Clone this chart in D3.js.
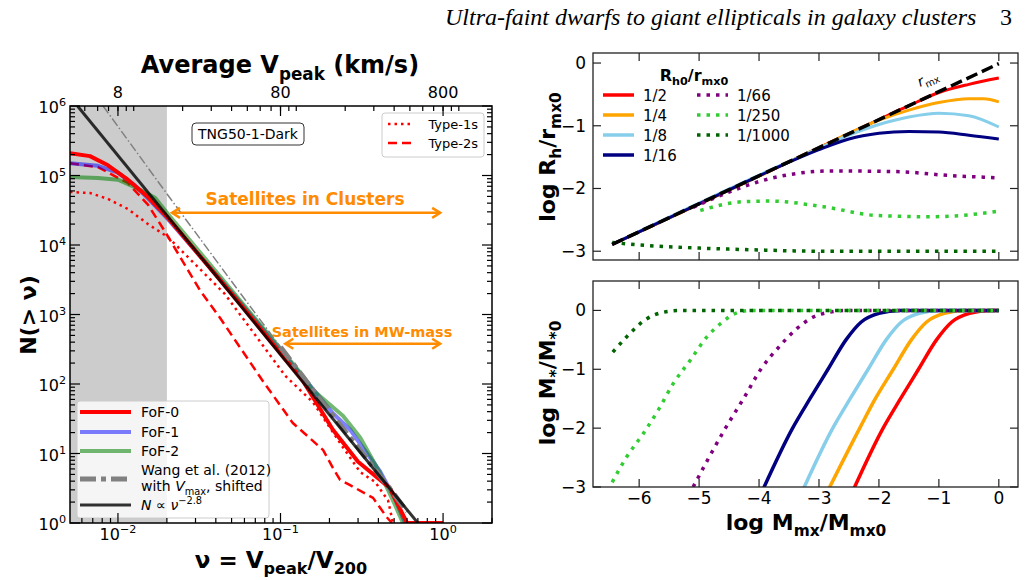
<!DOCTYPE html>
<html>
<head>
<meta charset="utf-8">
<script src="https://cdn.jsdelivr.net/npm/d3@7"></script>
<style>
  body { margin: 0; background: #fff; }
  svg { display: block; font-family: "DejaVu Sans", sans-serif; }
</style>
</head>
<body>
<div id="chart"></div>
<script>
// ---------- left panel: N(>nu) ----------
const nuFoF0 = [0.00507, 0.00673, 0.00868, 0.0115, 0.0153, 0.0203, 0.054, 0.136, 0.21, 0.30, 0.47, 0.60, 1.0];
const nFoF0 = [2.1e5, 1.9e5, 1.4e5, 8.7e4, 4.9e4, 2.45e4, 1.6e3, 115, 22, 7.6, 3.2, 1, 1];
const nuFoF1 = [0.00507, 0.00753, 0.01, 0.0127, 0.0153, 0.0203, 0.054, 0.136, 0.21, 0.268, 0.322, 0.41, 0.507, 0.584];
const nFoF1 = [1.5e5, 1.38e5, 1.1e5, 7.2e4, 4.7e4, 2.35e4, 1.7e3, 130, 38, 22, 12, 5.5, 2.2, 1];
const nuFoF2 = [0.00507, 0.00753, 0.01, 0.0127, 0.0169, 0.0203, 0.054, 0.136, 0.158, 0.242, 0.309, 0.41, 0.507, 0.567];
const nFoF2 = [9.5e4, 9.2e4, 8.7e4, 6.8e4, 4.8e4, 2.8e4, 1.8e3, 135, 82, 35, 17, 5.2, 1.8, 1];
const nuType1 = [0.00507, 0.00673, 0.00868, 0.0115, 0.0153, 0.0203, 0.0455, 0.107, 0.158, 0.242, 0.309, 0.382, 0.459, 0.492];
const nType1 = [5.8e4, 5.6e4, 4.6e4, 3.3e4, 2.0e4, 1.3e4, 1.97e3, 131, 55, 12.3, 5.4, 3.9, 2.1, 1];
const nuType2 = [0.00507, 0.00753, 0.0115, 0.0153, 0.0195, 0.0321, 0.0425, 0.0769, 0.119, 0.183, 0.21, 0.232, 0.268, 0.371, 0.452, 0.485];
const nType2 = [1.5e5, 1.32e5, 7.8e4, 3.8e4, 1.55e4, 2.2e3, 890, 115, 27.5, 11.2, 6.2, 4.2, 3.5, 2.3, 1.2, 1];
// Wang et al. (2012): thin = extrapolated part, thick = fitted range
const nuWangExt = [0.0081, 0.0203, 0.0548, 0.1];
const nWangExt = [1e6, 5.2e4, 2.24e3, 340];
const nuWang = [0.1, 0.175, 0.308, 0.493, 0.6];
const nWang = [340, 60, 11.2, 2.7, 1.45];
// N ∝ nu^-2.8 guide line (end points)
const nuPow = [0.00564, 0.70];
const nPow = [1e6, 1];
const nuShade = 0.02;            // resolution limit
const nuTicks = [0.01, 0.1, 1];
const nuTickExp = ["−2", "−1", "0"];
const vpeakTicks = [8, 80, 800];
const nTickExp = [0, 1, 2, 3, 4, 5, 6];

// ---------- right top: log Rh/rmx0 vs log Mmx/Mmx0 ----------
const rhLabels = ["1/2", "1/4", "1/8", "1/16", "1/66", "1/250", "1/1000"];
const xRmx = [-6.45, 0], yRmx = [-2.89, -0.01];
const xR2 = [-6.45, -4, -2, -1.5, -1, -0.5, 0];
const yR2 = [-2.89, -1.80, -0.90, -0.68, -0.47, -0.34, -0.24];
const xR4 = [-6.45, -3, -2.5, -2, -1.5, -1, -0.5, -0.25, 0];
const yR4 = [-2.89, -1.35, -1.12, -0.91, -0.75, -0.63, -0.57, -0.57, -0.62];
const xR8 = [-6.45, -3.5, -3, -2.5, -2, -1.5, -1, -0.5, 0];
const yR8 = [-2.89, -1.57, -1.36, -1.15, -0.98, -0.86, -0.80, -0.84, -1.02];
const xR16 = [-6.45, -4, -3.5, -3, -2.5, -2, -1.5, -1, -0.5, 0];
const yR16 = [-2.89, -1.80, -1.58, -1.38, -1.21, -1.12, -1.09, -1.10, -1.15, -1.21];
const xR66 = [-5.1, -4.48, -3.93, -3.37, -2.82, -1.71, -0.87, 0];
const yR66 = [-2.30, -2.05, -1.87, -1.76, -1.72, -1.73, -1.79, -1.83];
const xR250 = [-4.98, -4.26, -3.82, -2.93, -2.04, -1.15, -0.5, 0];
const yR250 = [-2.35, -2.21, -2.20, -2.29, -2.43, -2.45, -2.42, -2.36];
const xR1000 = [-6.45, -6, -5, -4, -3, -2, -1, 0];
const yR1000 = [-2.86, -2.90, -2.95, -2.98, -3.0, -3.0, -3.0, -3.0];

// ---------- right bottom: log M*/M*0 vs log Mmx/Mmx0 ----------
const xS2 = [-2.45, -1.93, -1.64, -1.34, -1.04, -0.79, -0.49, -0.14, 0];
const yS2 = [-3.1, -2, -1.5, -1, -0.5, -0.2, -0.05, 0, 0];
const xS4 = [-2.87, -2.32, -2.06, -1.76, -1.46, -1.21, -0.91, -0.56, 0];
const yS4 = [-3.1, -2, -1.5, -1, -0.5, -0.2, -0.05, 0, 0];
const xS8 = [-3.29, -2.77, -2.48, -2.18, -1.88, -1.63, -1.33, -0.98, 0];
const yS8 = [-3.1, -2, -1.5, -1, -0.5, -0.2, -0.05, 0, 0];
const xS16 = [-3.96, -3.44, -3.15, -2.85, -2.55, -2.3, -2.0, -1.65, 0];
const yS16 = [-3.1, -2, -1.5, -1, -0.5, -0.2, -0.05, 0, 0];
const xS66 = [-5.1, -4.56, -4.26, -3.97, -3.65, -3.37, -3.09, -2.82, -2.5, 0];
const yS66 = [-3.0, -2.0, -1.5, -1.0, -0.6, -0.31, -0.11, -0.03, 0, 0];
const xS250 = [-6.45, -6.21, -5.93, -5.68, -5.43, -5.15, -4.87, -4.65, -4.37, -4.15, 0];
const yS250 = [-2.92, -2.49, -2.09, -1.69, -1.24, -0.85, -0.45, -0.23, -0.04, 0, 0];
const xS1000 = [-6.44, -6.21, -5.87, -5.59, -5.3, 0];
const yS1000 = [-0.71, -0.45, -0.14, -0.03, 0, 0];
const massTicks = [-6, -5, -4, -3, -2, -1, 0];
const rhTicks = [0, -1, -2, -3];
const msTicks = [0, -1, -2, -3];

// ---------- canvas ----------
const width = 1025, height = 580;
const svg = d3.select("#chart").append("svg")
  .attr("width", width).attr("height", height);
svg.append("rect").attr("width", width).attr("height", height).attr("fill", "#fff");

// text with sub/superscripts: parts = [text, "sub"|"sup"|null, italic]
function rich(parent, x, y, parts, size) {
  const t = parent.append("text").attr("x", x).attr("y", y).attr("font-size", size);
  let cur = 0;
  parts.forEach(([s, kind, it]) => {
    const off = kind === "sub" ? 0.28 * size : kind === "sup" ? -0.42 * size : 0;
    const sp = t.append("tspan").attr("dy", off - cur).text(s);
    if (kind) sp.attr("font-size", size * 0.7);
    if (it) sp.attr("font-style", "italic");
    cur = off;
  });
  return t;
}

function clip(id, x0, y0, x1, y1) {
  svg.append("clipPath").attr("id", id).append("rect")
    .attr("x", x0).attr("y", y0).attr("width", x1 - x0).attr("height", y1 - y0);
}

// header
svg.append("text").attr("x", 445).attr("y", 25)
  .attr("font-family", "Liberation Serif").attr("font-style", "italic").attr("font-size", 24)
  .text("Ultra-faint dwarfs to giant ellipticals in galaxy clusters");
svg.append("text").attr("x", 1000).attr("y", 25)
  .attr("font-family", "Liberation Serif").attr("font-size", 24).text("3");

// ================= LEFT PANEL =================
const L = { x0: 70, x1: 492, y0: 106, y1: 523 };
const x = d3.scaleLog().domain([0.00507, 2.0]).range([L.x0, L.x1]);
const y = d3.scaleLog().domain([1, 1e6]).range([L.y1, L.y0]);
const xV = d3.scaleLog().domain([800 * 0.00507, 1600]).range([L.x0, L.x1]);
clip("clipL", L.x0, L.y0, L.x1, L.y1);

const gL = svg.append("g").attr("clip-path", "url(#clipL)");
gL.append("rect").attr("x", L.x0).attr("y", L.y0)
  .attr("width", x(nuShade) - L.x0).attr("height", L.y1 - L.y0).attr("fill", "#cccccc");

const lineL = d3.line().x(d => x(d[0])).y(d => y(d[1]));
function curveL(nu, n, stroke, w, dash, op) {
  gL.append("path").datum(d3.zip(nu, n))
    .attr("d", lineL).attr("fill", "none")
    .attr("stroke", stroke).attr("stroke-width", w)
    .attr("stroke-dasharray", dash || null)
    .attr("stroke-opacity", op || 1)
    .attr("stroke-linejoin", "round");
}
curveL(nuType2, nType2, "#ff0000", 2.5, "9,5");
curveL(nuType1, nType1, "#ff0000", 2.5, "2.5,4");
curveL(nuFoF1, nFoF1, "#0000ff", 4, null, 0.5);
curveL(nuFoF2, nFoF2, "#008000", 4, null, 0.55);
curveL(nuFoF0, nFoF0, "#ff0000", 4);
curveL(nuWangExt, nWangExt, "#808080", 1.5, "9,2.5,1.5,2.5");
curveL(nuWang, nWang, "#808080", 5, "16,5,5,5");
curveL(nuPow, nPow, "#000000", 3, null, 0.8);

// arrows
function arrow(nuA, nuB, nY) {
  const xa = x(nuA), xb = x(nuB), yy = y(nY), c = "#ff8c00";
  const g = svg.append("g").attr("stroke", c).attr("stroke-width", 2.5).attr("fill", "none");
  g.append("line").attr("x1", xa).attr("x2", xb).attr("y1", yy).attr("y2", yy);
  g.append("path").attr("d", `M${xa + 8},${yy - 5}L${xa},${yy}L${xa + 8},${yy + 5}`);
  g.append("path").attr("d", `M${xb - 8},${yy - 5}L${xb},${yy}L${xb - 8},${yy + 5}`);
}
arrow(0.0215, 0.96, 2.9e4);
arrow(0.107, 0.96, 380);
svg.append("text").attr("x", 305).attr("y", 205).attr("text-anchor", "middle")
  .attr("font-size", 17).attr("font-weight", "bold").attr("fill", "#ff8c00")
  .text("Satellites in Clusters");
svg.append("text").attr("x", 362).attr("y", 337).attr("text-anchor", "middle")
  .attr("font-size", 14.5).attr("font-weight", "bold").attr("fill", "#ff8c00")
  .text("Satellites in MW-mass");

// TNG label box
svg.append("rect").attr("x", 192).attr("y", 123).attr("width", 112).attr("height", 22)
  .attr("rx", 4).attr("fill", "#fff").attr("stroke", "#333").attr("stroke-width", 1);
svg.append("text").attr("x", 248).attr("y", 139).attr("text-anchor", "middle")
  .attr("font-size", 14).text("TNG50-1-Dark");

// legend: Type-1s / Type-2s
svg.append("rect").attr("x", 382).attr("y", 113).attr("width", 102).attr("height", 44)
  .attr("rx", 3).attr("fill", "#fff").attr("fill-opacity", 0.8).attr("stroke", "#ccc");
[["Type-1s", "2.5,4"], ["Type-2s", "9,5"]].forEach(([lab, dash], i) => {
  const yy = 124 + i * 19;
  svg.append("line").attr("x1", 388).attr("x2", 414).attr("y1", yy).attr("y2", yy)
    .attr("stroke", "#ff0000").attr("stroke-width", 2.5).attr("stroke-dasharray", dash);
  svg.append("text").attr("x", 478).attr("y", yy + 5).attr("text-anchor", "end")
    .attr("font-size", 13).text(lab);
});

// legend: FoF groups etc.
svg.append("rect").attr("x", 77).attr("y", 401).attr("width", 192).attr("height", 117)
  .attr("rx", 3).attr("fill", "#fff").attr("fill-opacity", 0.8).attr("stroke", "#ccc");
const legL = [
  { y: 412, c: "#ff0000", w: 4, op: 1, parts: [["FoF-0"]] },
  { y: 432, c: "#0000ff", w: 4, op: 0.5, parts: [["FoF-1"]] },
  { y: 451, c: "#008000", w: 4, op: 0.55, parts: [["FoF-2"]] },
  { y: 479, c: "#808080", w: 5, op: 1, dash: "16,5,5,5", parts: [["Wang et al. (2012)"]] },
  { y: 505, c: "#000000", w: 3, op: 0.8, parts: [["N", null, true], [" ∝ "], ["ν", null, true], ["−2.8", "sup"]] }
];
legL.forEach(d => {
  svg.append("line").attr("x1", 80).attr("x2", 131).attr("y1", d.y).attr("y2", d.y)
    .attr("stroke", d.c).attr("stroke-width", d.w).attr("stroke-opacity", d.op)
    .attr("stroke-dasharray", d.dash || null);
  rich(svg, 141, d.y + (d.dash ? -4 : 5), d.parts, 14);
});
rich(svg, 141, 491, [["with "], ["V", null, true], ["max", "sub"], [", shifted"]], 14);

// axes frame + ticks
svg.append("rect").attr("x", L.x0).attr("y", L.y0).attr("width", L.x1 - L.x0)
  .attr("height", L.y1 - L.y0).attr("fill", "none").attr("stroke", "#000").attr("stroke-width", 1.5);
const isMajor = v => Math.abs(Math.log10(v) - Math.round(Math.log10(v))) < 1e-6;
const gT = svg.append("g").attr("stroke", "#000").attr("stroke-width", 1.2);
y.ticks().forEach(v => {
  const len = isMajor(v) ? 10 : 5, yy = y(v);
  gT.append("line").attr("x1", L.x0).attr("x2", L.x0 + len).attr("y1", yy).attr("y2", yy);
  gT.append("line").attr("x1", L.x1).attr("x2", L.x1 - len).attr("y1", yy).attr("y2", yy);
});
x.ticks().forEach(v => {
  const len = isMajor(v) ? 10 : 5;
  gT.append("line").attr("x1", x(v)).attr("x2", x(v)).attr("y1", L.y1).attr("y2", L.y1 - len);
});
xV.ticks().forEach(v => {
  gT.append("line").attr("x1", xV(v)).attr("x2", xV(v)).attr("y1", L.y0).attr("y2", L.y0 + 5);
});
vpeakTicks.forEach(v => {
  gT.append("line").attr("x1", xV(v)).attr("x2", xV(v)).attr("y1", L.y0).attr("y2", L.y0 + 10);
  svg.append("text").attr("x", xV(v)).attr("y", 98).attr("text-anchor", "middle")
    .attr("font-size", 16).text(v);
});
nTickExp.forEach(k => {
  rich(svg, 66, y(Math.pow(10, k)) + 7, [["10"], [String(k), "sup"]], 16).attr("text-anchor", "end");
});
nuTicks.forEach((v, i) => {
  rich(svg, x(v), 540, [["10"], [nuTickExp[i], "sup"]], 16).attr("text-anchor", "middle");
});

// axis titles
rich(svg, 280, 73, [["Average V"], ["peak", "sub"], [" (km/s)"]], 24)
  .attr("text-anchor", "middle").attr("font-weight", "bold");
rich(svg, 281, 568, [["ν = V"], ["peak", "sub"], ["/V"], ["200", "sub"]], 23)
  .attr("text-anchor", "middle").attr("font-weight", "bold");
svg.append("text").attr("transform", "translate(36,315) rotate(-90)")
  .attr("text-anchor", "middle").attr("font-size", 22).attr("font-weight", "bold")
  .text("N(> ν)");

// ================= RIGHT PANELS =================
const R = { x0: 593, x1: 1018 };
const xm = d3.scaleLinear().domain([-6.77, 0.32]).range([R.x0, R.x1]);
const T = { y0: 53, y1: 260 }, B = { y0: 281, y1: 487 };
const yr = d3.scaleLinear().domain([-3.14, 0.16]).range([T.y1, T.y0]);
const ys = d3.scaleLinear().domain([-3, 0.5]).range([B.y1, B.y0]);
clip("clipT", R.x0, T.y0, R.x1, T.y1);
clip("clipB", R.x0, B.y0, R.x1, B.y1);

const colors = ["#ff0000", "#ffa500", "#87ceeb", "#000080", "#800080", "#32cd32", "#006400"];
const dotted = [false, false, false, false, true, true, true];
const topX = [xR2, xR4, xR8, xR16, xR66, xR250, xR1000];
const topY = [yR2, yR4, yR8, yR16, yR66, yR250, yR1000];
const botX = [xS2, xS4, xS8, xS16, xS66, xS250, xS1000];
const botY = [yS2, yS4, yS8, yS16, yS66, yS250, yS1000];

const gTop = svg.append("g").attr("clip-path", "url(#clipT)");
const gBot = svg.append("g").attr("clip-path", "url(#clipB)");
const lineT = d3.line().x(d => xm(d[0])).y(d => yr(d[1])).curve(d3.curveMonotoneX);
const lineB = d3.line().x(d => xm(d[0])).y(d => ys(d[1])).curve(d3.curveMonotoneX);
colors.forEach((c, i) => {
  gTop.append("path").datum(d3.zip(topX[i], topY[i])).attr("d", lineT)
    .attr("fill", "none").attr("stroke", c).attr("stroke-width", dotted[i] ? 3.5 : 3)
    .attr("stroke-dasharray", dotted[i] ? "3.5,6" : null);
  gBot.append("path").datum(d3.zip(botX[i], botY[i])).attr("d", lineB)
    .attr("fill", "none").attr("stroke", c).attr("stroke-width", 3.5)
    .attr("stroke-dasharray", dotted[i] ? "3.5,6" : null);
});
// r_mx reference
gTop.append("path").datum(d3.zip(xRmx, yRmx)).attr("d", lineT)
  .attr("fill", "none").attr("stroke", "#000").attr("stroke-width", 3.5)
  .attr("stroke-dasharray", "12,5");
const ang = Math.atan2(yr(yRmx[1]) - yr(yRmx[0]), xm(xRmx[1]) - xm(xRmx[0])) * 180 / Math.PI;
rich(svg, 0, 0, [["r", null, true], ["mx", "sub"]], 14)
  .attr("transform", `translate(920,87) rotate(${ang})`);

// legend (top right)
rich(svg, 694, 81, [["R"], ["h0", "sub"], ["/r"], ["mx0", "sub"]], 16)
  .attr("text-anchor", "middle").attr("font-weight", "bold");
rhLabels.forEach((lab, i) => {
  const col = i < 4 ? 0 : 1, row = i < 4 ? i : i - 4;
  const lx = col ? 697 : 603, yy = 95 + row * 20;
  svg.append("line").attr("x1", lx).attr("x2", lx + 31).attr("y1", yy).attr("y2", yy)
    .attr("stroke", colors[i]).attr("stroke-width", 3.5)
    .attr("stroke-dasharray", dotted[i] ? "3.5,6" : null);
  svg.append("text").attr("x", lx + 40).attr("y", yy + 6).attr("font-size", 15).text(lab);
});

// frames and ticks
[[T, yr, rhTicks], [B, ys, msTicks]].forEach(([P, ysc, yt]) => {
  svg.append("rect").attr("x", R.x0).attr("y", P.y0).attr("width", R.x1 - R.x0)
    .attr("height", P.y1 - P.y0).attr("fill", "none").attr("stroke", "#222").attr("stroke-width", 1.3);
  const g = svg.append("g").attr("stroke", "#222").attr("stroke-width", 1.2);
  massTicks.forEach(v => {
    g.append("line").attr("x1", xm(v)).attr("x2", xm(v)).attr("y1", P.y1).attr("y2", P.y1 - 8);
    g.append("line").attr("x1", xm(v)).attr("x2", xm(v)).attr("y1", P.y0).attr("y2", P.y0 + 8);
  });
  yt.forEach(v => {
    g.append("line").attr("x1", R.x0).attr("x2", R.x0 + 8).attr("y1", ysc(v)).attr("y2", ysc(v));
    g.append("line").attr("x1", R.x1).attr("x2", R.x1 - 8).attr("y1", ysc(v)).attr("y2", ysc(v));
    svg.append("text").attr("x", 586).attr("y", ysc(v) + 6).attr("text-anchor", "end")
      .attr("font-size", 17).text(v < 0 ? "−" + Math.abs(v) : v);
  });
});
massTicks.forEach(v => {
  svg.append("text").attr("x", xm(v)).attr("y", 504).attr("text-anchor", "middle")
    .attr("font-size", 17).text(v < 0 ? "−" + Math.abs(v) : v);
});

rich(svg, 0, 0, [["log R"], ["h", "sub"], ["/r"], ["mx0", "sub"]], 22)
  .attr("transform", "translate(555,157) rotate(-90)")
  .attr("text-anchor", "middle").attr("font-weight", "bold");
rich(svg, 0, 0, [["log M"], ["*", "sub"], ["/M"], ["*0", "sub"]], 22)
  .attr("transform", "translate(555,383) rotate(-90)")
  .attr("text-anchor", "middle").attr("font-weight", "bold");
rich(svg, 806, 530, [["log M"], ["mx", "sub"], ["/M"], ["mx0", "sub"]], 22)
  .attr("text-anchor", "middle").attr("font-weight", "bold");
</script>
</body>
</html>
